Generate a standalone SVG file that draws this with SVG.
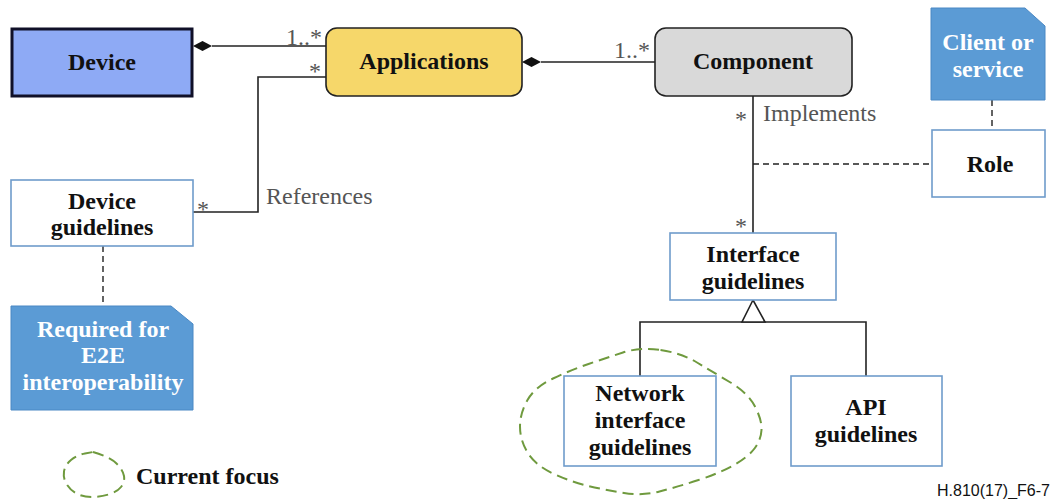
<svg xmlns="http://www.w3.org/2000/svg" width="1055" height="499" viewBox="0 0 1055 499">
<style>
.lbl{font-family:"Liberation Serif","Times New Roman",serif;font-weight:bold;font-size:24px;fill:#111;text-anchor:middle}
.wlbl{font-family:"Liberation Serif","Times New Roman",serif;font-weight:bold;font-size:24px;fill:#fff;text-anchor:middle}
.mul{font-family:"Liberation Serif","Times New Roman",serif;font-size:24px;fill:#555}
.role{font-family:"Liberation Serif","Times New Roman",serif;font-size:24px;fill:#555}
.box{fill:#fff;stroke:#6f9ccb;stroke-width:1.6}
.note{fill:#5b9bd5;stroke:#4a88c4;stroke-width:1}
.ln{fill:none;stroke:#222;stroke-width:1.6}
.dash{fill:none;stroke:#222;stroke-width:1.4;stroke-dasharray:6 4}
.focus{fill:none;stroke:#6f9a3e;stroke-width:2;stroke-dasharray:11 6}
</style>
<g id="connectors">
<path class="ln" d="M212,46 L326,46"/>
<path d="M193,46 L202.5,41 L212,46 L202.5,51 Z" fill="#111"/>
<path class="ln" d="M326,77 L258,77 L258,212 L193,212"/>
<path class="ln" d="M541,62 L655,62"/>
<path d="M522,62 L531.5,57 L541,62 L531.5,67 Z" fill="#111"/>
<path class="ln" d="M753,96 L753,233"/>
<path class="dash" d="M753,164 L932,164"/>
<path class="dash" d="M992,100 L992,130"/>
<path class="dash" d="M103,246 L103,306"/>
<path class="ln" d="M640,376 L640,322 L866,322 L866,376"/>
<path d="M753,300 L742,322 L765,322 Z" fill="#fff" stroke="#222" stroke-width="1.6"/>
<text class="mul" x="286" y="45">1..*</text>
<text class="mul" x="309" y="79">*</text>
<text class="mul" x="197" y="217">*</text>
<text class="role" x="266" y="204">References</text>
<text class="mul" x="614" y="58">1..*</text>
<text class="mul" x="735" y="127">*</text>
<text class="role" x="763" y="121">Implements</text>
<text class="mul" x="735" y="234">*</text>
</g>
<g id="device">
<rect x="12" y="29" width="180" height="67" fill="#8eaaf5" stroke="#101028" stroke-width="3"/>
<text class="lbl" x="102" y="70">Device</text>
</g>
<g id="applications">
<rect x="326" y="28" width="196" height="68" rx="11" fill="#f6d76a" stroke="#222" stroke-width="1.6"/>
<text class="lbl" x="424" y="69">Applications</text>
</g>
<g id="component">
<rect x="655" y="28" width="197" height="68" rx="11" fill="#d9d9d9" stroke="#222" stroke-width="1.6"/>
<text class="lbl" x="753" y="69">Component</text>
</g>
<g id="client-note">
<path class="note" d="M931,8 L1025,8 L1045,26 L1045,100 L931,100 Z"/>
<text class="wlbl" x="988" y="50">Client or</text>
<text class="wlbl" x="988" y="77">service</text>
</g>
<g id="role">
<rect class="box" x="932" y="130" width="113" height="67"/>
<text class="lbl" x="990" y="172">Role</text>
</g>
<g id="device-guidelines">
<rect class="box" x="11" y="180" width="182" height="66"/>
<text class="lbl" x="102" y="209">Device</text>
<text class="lbl" x="102" y="235">guidelines</text>
</g>
<g id="required-note">
<path class="note" d="M11,306 L171,306 L193,324 L193,410 L11,410 Z"/>
<text class="wlbl" x="103" y="337">Required for</text>
<text class="wlbl" x="103" y="363">E2E</text>
<text class="wlbl" x="103" y="390">interoperability</text>
</g>
<g id="interface-guidelines">
<rect class="box" x="670" y="233" width="166" height="67"/>
<text class="lbl" x="753" y="262">Interface</text>
<text class="lbl" x="753" y="289">guidelines</text>
</g>
<g id="network-interface-guidelines">
<rect class="box" x="564" y="376" width="152" height="90"/>
<text class="lbl" x="640" y="401">Network</text>
<text class="lbl" x="640" y="428">interface</text>
<text class="lbl" x="640" y="455">guidelines</text>
</g>
<g id="api-guidelines">
<rect class="box" x="791" y="376" width="151" height="90"/>
<text class="lbl" x="866" y="415">API</text>
<text class="lbl" x="866" y="442">guidelines</text>
</g>
<g id="focus">
<path class="focus" d="M660.5,350 Q681,353 697,362.5 Q713,372 730.5,382.5 Q748,393 755,406.5 Q762,420 761.5,430 Q761,440 754.5,448.5 Q748,457 734,465 Q720,473 698.5,480 Q677,487 659.5,491.5 Q642,496 624,493 Q606,490 588.5,486 Q571,482 553,473.5 Q535,465 527.5,452.5 Q520,440 520,426.5 Q520,413 527.5,400 Q535,387 553,378.5 Q571,370 588.5,364 Q606,358 623,352.5 Q640,347 660.5,350 Z"/>
</g>
<g id="legend">
<path class="focus" d="M93,452 Q110,457 116.5,463.5 Q123,470 124,476 Q125,482 121,487 Q117,492 108.5,494.5 Q100,497 91.5,497 Q83,497 76.5,493.5 Q70,490 66.5,484 Q63,478 64,471.5 Q65,465 71,460 Q77,455 85,453.5 Z"/>
<text x="136" y="484" font-family="Liberation Serif, Times New Roman, serif" font-weight="bold" font-size="24" fill="#111">Current focus</text>
</g>
<text x="1050" y="496" font-family="Liberation Sans, Arial, sans-serif" font-size="16" fill="#111" text-anchor="end">H.810(17)_F6-7</text>
</svg>
